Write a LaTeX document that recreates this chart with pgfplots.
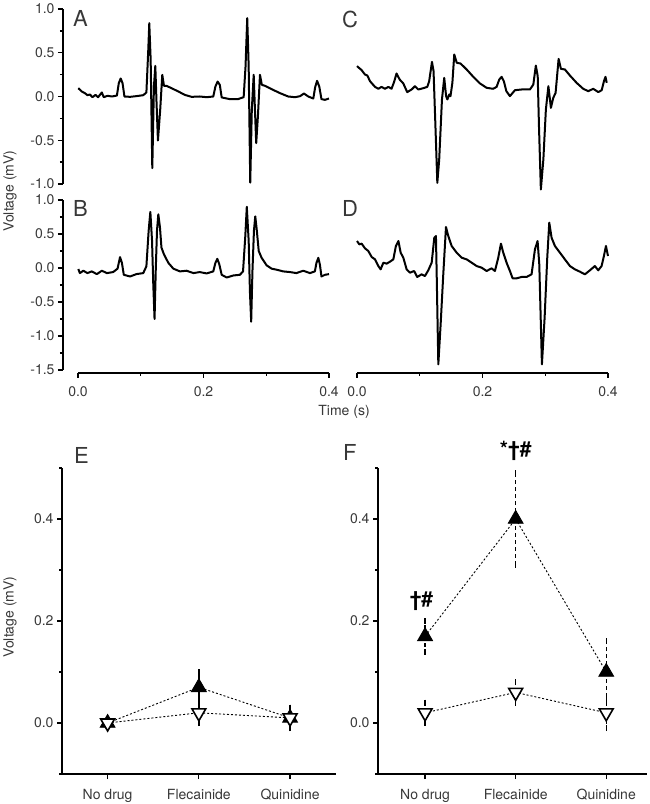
\documentclass[border=0pt]{standalone}
\usepackage{fontspec}
\setmainfont{TeX Gyre Heros}
\usepackage{pgfplots}
\pgfplotsset{compat=1.18}
\definecolor{txt}{gray}{0.22}
\pgfplotsset{
  trace/.style={black, line width=2pt, line join=round, no marks},
  base/.style={scale only axis, clip=false,
    axis line style={line width=1.8pt, -},
    tick style={black, line width=1.3pt},
    tick align=outside,
    major tick length=5pt, minor tick length=3pt,
    tick label style={font=\fontsize{14}{14}\selectfont, text=txt},
    /pgf/number format/assume math mode=true,
    /pgf/number format/.cd, fixed, fixed zerofill, precision=1},
  filled/.style={black, dash pattern=on 2pt off 2pt, line width=0.9pt,
    mark=triangle*, mark size=8.5pt, mark options={solid, fill=black}},
  open/.style={black, dash pattern=on 2pt off 2pt, line width=0.9pt,
    mark=triangle*, mark size=8pt, mark options={solid, fill=white, rotate=180, line width=1.6pt}},
}
\begin{document}
\begin{tikzpicture}
\useasboundingbox (0,0) rectangle (649pt,804pt);
% ---------- A ----------
\begin{axis}[base, at={(78pt,620pt)}, anchor=south west, width=251pt, height=175pt,
  xmin=0, xmax=0.4, ymin=-1, ymax=1,
  axis x line=none, axis y line*=left, axis y line shift=15pt,
  ytick={-1,-0.5,0,0.5,1}, minor y tick num=1]
\addplot[trace] coordinates {
(0.0005,0.095)(0.006,0.057)(0.011,0.038)(0.015,0.015)(0.019,0.023)(0.023,-0.008)(0.028,0.019)(0.032,-0.008)(0.038,0.046)(0.041,-0.008)(0.047,0.008)(0.054,0)(0.062,0.011)(0.065,0.152)(0.068,0.206)(0.071,0.152)(0.074,0)(0.083,-0.004)(0.093,0.004)(0.104,0.015)(0.109,0.046)(0.112,0.533)(0.1136,0.838)(0.1158,0.419)(0.1184,-0.819)(0.121,0.114)(0.1232,0.350)(0.125,-0.038)(0.1274,-0.503)(0.131,-0.152)(0.1343,0.248)(0.137,0.122)(0.141,0.122)(0.149,0.095)(0.160,0.057)(0.170,0.019)(0.181,-0.004)(0.194,0)(0.205,-0.008)(0.2156,0)(0.219,0.114)(0.2225,0.171)(0.226,0.133)(0.229,-0.011)(0.242,-0.030)(0.255,-0.030)(0.264,-0.008)(0.267,0.343)(0.2697,0.895)(0.272,0.343)(0.2745,-0.983)(0.277,-0.152)(0.280,0.248)(0.282,-0.152)(0.284,-0.533)(0.2867,-0.229)(0.290,0.248)(0.293,0.133)(0.298,0.122)(0.3085,0.084)(0.322,0.038)(0.335,0)(0.346,-0.008)(0.354,0.004)(0.360,0.034)(0.367,0)(0.375,-0.023)(0.378,0.107)(0.381,0.179)(0.3845,0.114)(0.388,-0.030)(0.3935,-0.038)(0.400,-0.023)};
\end{axis}
% ---------- B ----------
\begin{axis}[base, at={(78pt,434pt)}, anchor=south west, width=251pt, height=170pt,
  xmin=0, xmax=0.4, ymin=-1.5, ymax=1,
  axis x line*=bottom, axis x line shift=3pt, axis y line*=left, axis y line shift=15pt,
  xtick={0,0.2,0.4}, minor x tick num=1,
  ytick={-1.5,-1,-0.5,0,0.5,1}, minor y tick num=1,
  xticklabel style={yshift=-5pt}]
\addplot[trace] coordinates {
(0.0005,-0.015)(0.003,-0.075)(0.0085,-0.04)(0.015,-0.075)(0.022,-0.05)(0.030,-0.09)(0.038,-0.04)(0.046,-0.075)(0.056,-0.06)(0.063,-0.01)(0.067,0.16)(0.070,0.075)(0.073,-0.10)(0.083,-0.125)(0.093,-0.09)(0.104,-0.075)(0.109,0.025)(0.1126,0.55)(0.1153,0.825)(0.118,0.40)(0.120,-0.25)(0.122,-0.75)(0.124,0.0)(0.1259,0.55)(0.128,0.79)(0.1306,0.60)(0.133,0.30)(0.137,0.20)(0.144,0.075)(0.152,-0.01)(0.1625,-0.05)(0.173,-0.04)(0.184,-0.075)(0.194,-0.06)(0.205,-0.08)(0.2156,-0.05)(0.219,0.075)(0.222,0.135)(0.225,0.06)(0.229,-0.10)(0.237,-0.14)(0.2475,-0.11)(0.258,-0.10)(0.263,-0.05)(0.2665,0.45)(0.269,0.90)(0.272,0.40)(0.274,-0.35)(0.276,-0.79)(0.278,-0.05)(0.2804,0.55)(0.2825,0.76)(0.285,0.55)(0.288,0.25)(0.2926,0.15)(0.3005,0.04)(0.3085,-0.01)(0.3165,-0.025)(0.327,-0.05)(0.338,-0.06)(0.348,-0.075)(0.359,-0.04)(0.3696,-0.075)(0.3775,-0.05)(0.380,0.075)(0.383,0.15)(0.3855,0.05)(0.388,-0.125)(0.3935,-0.10)(0.400,-0.09)};
\end{axis}
% ---------- C ----------
\begin{axis}[base, at={(357pt,620pt)}, anchor=south west, width=251pt, height=175pt,
  xmin=0, xmax=0.4, ymin=-1, ymax=1, hide axis]
\addplot[trace] coordinates {
(0.0,0.347)(0.0074,0.301)(0.0127,0.251)(0.0165,0.24)(0.0207,0.175)(0.0287,0.11)(0.034,0.088)(0.039,0.11)(0.0446,0.088)(0.050,0.11)(0.055,0.088)(0.059,0.164)(0.063,0.263)(0.068,0.194)(0.0738,0.149)(0.080,0.05)(0.087,0.08)(0.0924,0.118)(0.0977,0.08)(0.1057,0.095)(0.112,0.11)(0.115,0.175)(0.1195,0.396)(0.122,0.29)(0.125,-0.34)(0.128,-0.987)(0.131,-0.72)(0.1354,-0.034)(0.139,0.213)(0.142,0.004)(0.144,-0.034)(0.147,0.023)(0.149,0.004)(0.152,0.156)(0.155,0.48)(0.159,0.385)(0.165,0.377)(0.1747,0.309)(0.1853,0.225)(0.196,0.149)(0.2066,0.099)(0.217,0.088)(0.2225,0.11)(0.2267,0.194)(0.2305,0.225)(0.234,0.175)(0.238,0.061)(0.2437,0.004)(0.2517,0.072)(0.2623,0.08)(0.2756,0.08)(0.281,0.137)(0.285,0.354)(0.288,0.232)(0.290,-0.34)(0.293,-1.063)(0.297,-0.72)(0.301,-0.149)(0.305,0.118)(0.3075,-0.034)(0.309,-0.13)(0.3128,-0.015)(0.3165,0.042)(0.3213,0.43)(0.325,0.316)(0.3313,0.309)(0.3393,0.24)(0.35,0.156)(0.3605,0.088)(0.3685,0.061)(0.3765,0.088)(0.3845,0.05)(0.39,0.072)(0.3935,0.175)(0.396,0.225)(0.398,0.156)};
\end{axis}
% ---------- D ----------
\begin{axis}[base, at={(357pt,434pt)}, anchor=south west, width=251pt, height=170pt,
  xmin=0, xmax=0.4, ymin=-1.5, ymax=1,
  axis y line=none, axis x line*=bottom, axis x line shift=3pt,
  xtick={0,0.2,0.4}, minor x tick num=1,
  xticklabel style={yshift=-5pt}]
\addplot[trace] coordinates {
(0.0,0.397)(0.0037,0.348)(0.0074,0.358)(0.0127,0.289)(0.018,0.25)(0.0234,0.162)(0.0287,0.127)(0.034,0.029)(0.0377,-0.02)(0.042,0.078)(0.0473,0.064)(0.0526,0.093)(0.0579,0.127)(0.062,0.324)(0.066,0.397)(0.0696,0.225)(0.0738,0.152)(0.0791,-0.02)(0.0844,-0.069)(0.091,-0.044)(0.096,-0.132)(0.103,-0.093)(0.1083,-0.118)(0.1136,-0.034)(0.119,0.078)(0.1232,0.446)(0.1258,0.47)(0.127,-0.093)(0.1296,-1.417)(0.1333,-0.828)(0.1375,-0.093)(0.1418,0.603)(0.1455,0.47)(0.1508,0.324)(0.1588,0.225)(0.1667,0.152)(0.1747,0.127)(0.1827,0.078)(0.1906,0.029)(0.1986,0.005)(0.2066,-0.044)(0.2145,-0.005)(0.2198,-0.044)(0.2251,0.152)(0.2294,0.358)(0.2331,0.225)(0.2384,0.078)(0.2437,-0.044)(0.248,-0.152)(0.2543,-0.152)(0.2623,-0.132)(0.2703,-0.132)(0.2782,-0.093)(0.2836,0.275)(0.2878,0.397)(0.2905,0.054)(0.2947,-1.417)(0.299,-0.73)(0.3032,0.152)(0.3064,0.667)(0.3101,0.446)(0.3154,0.324)(0.3234,0.225)(0.3313,0.127)(0.3393,0.029)(0.3473,-0.02)(0.3552,-0.054)(0.3632,-0.093)(0.3712,-0.034)(0.3791,0.029)(0.3844,-0.034)(0.3898,0.029)(0.3935,0.176)(0.3967,0.324)(0.40,0.176)};
\end{axis}
% ---------- E ----------
\begin{axis}[base, at={(62pt,30pt)}, anchor=south west, width=273.7pt, height=306pt,
  xmin=-0.5, xmax=2.5, ymin=-0.1, ymax=0.5,
  axis x line*=bottom, axis y line*=left,
  xtick={0,1,2}, xticklabels={No drug, Flecainide, Quinidine},
  ytick={0,0.2,0.4}, minor ytick={-0.1,0.1,0.3,0.5},
  xticklabel style={yshift=-7pt}]
\addplot[filled, error bars/.cd, y dir=both, y explicit,
  error bar style={solid, line width=1.4pt}, error mark options={solid, line width=1.4pt, mark size=3pt}]
  coordinates {(0,0) +- (0,0.005) (1,0.07) +- (0,0.03) (2,0.01) +- (0,0.02)};
\addplot[open, error bars/.cd, y dir=both, y explicit,
  error bar style={solid, line width=1.4pt}, error mark options={solid, line width=1.4pt, mark size=3pt}]
  coordinates {(0,0) +- (0,0.005) (1,0.02) +- (0,0.02) (2,0.01) +- (0,0.02)};
\end{axis}
% ---------- F ----------
\begin{axis}[base, at={(378pt,30pt)}, anchor=south west, width=269pt, height=306pt,
  xmin=-0.52, xmax=2.45, ymin=-0.1, ymax=0.5,
  axis x line*=bottom, axis y line*=left,
  xtick={0,1,2}, xticklabels={No drug, Flecainide, Quinidine},
  ytick={0,0.2,0.4}, minor ytick={-0.1,0.1,0.3,0.5},
  xticklabel style={yshift=-7pt}]
\addplot[filled, error bars/.cd, y dir=both, y explicit,
  error bar style={dash pattern=on 4pt off 3pt, line width=1.4pt}, error mark options={solid, line width=1.4pt, mark size=3pt}]
  coordinates {(0,0.17) +- (0,0.03) (1,0.40) +- (0,0.09) (2,0.10) +- (0,0.06)};
\addplot[open, error bars/.cd, y dir=both, y explicit,
  error bar style={dash pattern=on 4pt off 3pt, line width=1.4pt}, error mark options={solid, line width=1.4pt, mark size=3pt}]
  coordinates {(0,0.02) +- (0,0.02) (1,0.06) +- (0,0.02) (2,0.02) +- (0,0.03)};
\node[font=\fontsize{21}{21}\selectfont\bfseries] at (axis cs:-0.04,0.239) {†\#};
\node[font=\fontsize{21}{21}\selectfont\bfseries] at (axis cs:1,0.533) {*†\#};
\end{axis}
% ---------- labels ----------
\begin{scope}[every node/.style={inner sep=0pt, text=txt}]
\node[anchor=west, font=\fontsize{22}{22}\selectfont] at (73pt,786pt) {A};
\node[anchor=west, font=\fontsize{22}{22}\selectfont] at (73pt,596pt) {B};
\node[anchor=west, font=\fontsize{22}{22}\selectfont] at (342pt,785pt) {C};
\node[anchor=west, font=\fontsize{22}{22}\selectfont] at (342pt,596pt) {D};
\node[anchor=west, font=\fontsize{22}{22}\selectfont] at (74pt,349pt) {E};
\node[anchor=west, font=\fontsize{22}{22}\selectfont] at (343pt,352pt) {F};
\node[rotate=90, font=\fontsize{14}{14}\selectfont] at (10pt,613pt) {Voltage (mV)};
\node[rotate=90, font=\fontsize{14}{14}\selectfont] at (10pt,187pt) {Voltage (mV)};
\node[font=\fontsize{14}{14}\selectfont] at (344pt,392pt) {Time (s)};
\end{scope}
\end{tikzpicture}
\end{document}
